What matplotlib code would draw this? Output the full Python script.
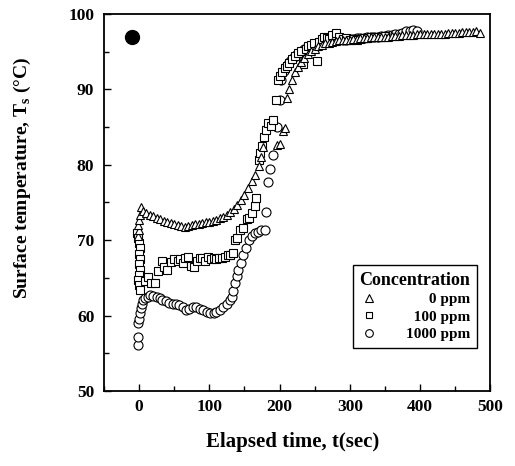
import matplotlib
matplotlib.use("Agg")
import matplotlib.pyplot as plt
from matplotlib.ticker import MultipleLocator

plt.rcParams['font.family'] = ['Liberation Serif', 'DejaVu Serif']
plt.rcParams['font.weight'] = 'bold'
plt.rcParams['mathtext.fontset'] = 'custom'
plt.rcParams['mathtext.rm'] = 'Liberation Serif:bold'

# ---- data ----
tri_t = [-1, 0, -1, 0, 1, 2,
         5, 10, 15, 20, 25, 30, 35, 40, 45, 50, 55, 60, 65, 70, 75, 80, 85, 90, 95, 100,
         105, 110, 115, 120, 125, 130, 135, 140, 145, 150, 155, 160, 165, 170, 174, 177,
         197, 201, 205, 208, 211, 214, 218, 222, 226, 230, 235, 240, 245, 250, 255, 260,
         265, 270, 275, 280, 285, 290, 295, 300, 305, 310, 315, 320, 325, 330, 335, 340,
         345, 350, 355, 360, 365, 370, 375, 380, 385, 390, 395, 400, 405, 410, 415, 420,
         425, 430, 435, 440, 445, 450, 455, 460, 465, 470, 475, 480, 485]
tri_T = [70.6, 71.3, 72.0, 72.7, 73.4, 74.4,
         73.9, 73.6, 73.4, 73.2, 73.0, 72.8, 72.6, 72.4, 72.3, 72.1, 72.0, 71.9, 71.8, 71.9,
         72.0, 72.1, 72.2, 72.3, 72.4, 72.4, 72.6, 72.7, 72.9, 73.1, 73.4, 73.8, 74.2, 74.6,
         75.3, 76.0, 76.9, 77.8, 78.7, 79.8, 81.0, 82.3,
         82.6, 82.8, 84.5, 84.9, 88.9, 90.0, 91.3, 92.3, 93.0, 93.6, 94.2, 94.7, 95.1, 95.4,
         95.7, 95.9, 96.1, 96.2, 96.3, 96.4, 96.5, 96.5, 96.6, 96.6, 96.7, 96.7, 96.8, 96.8,
         96.8, 96.9, 96.9, 96.9, 97.0, 97.0, 97.0, 97.1, 97.1, 97.1, 97.2, 97.2, 97.2, 97.2,
         97.3, 97.3, 97.3, 97.3, 97.3, 97.4, 97.4, 97.4, 97.4, 97.5, 97.5, 97.5, 97.5, 97.6,
         97.6, 97.6, 97.6, 97.7, 97.5]

sq_t = [-3, -2, 0, 1, 0, 1, 0, 1, 0, -1, 0, 1,
        8, 12, 17, 22, 27, 32, 36, 40, 45, 50, 55, 58, 62, 66, 70, 74, 78, 82, 86, 90, 94,
        98, 102, 106, 110, 114, 118, 122, 126, 130, 133, 136, 140, 144, 148, 153, 157, 161,
        165, 167, 170, 172, 175, 178, 181, 184, 188, 191, 195, 198, 201, 204, 207, 210, 214,
        218, 222, 226, 230, 233, 237, 241, 245, 249, 253, 256, 260, 263, 267, 271, 275, 280,
        285, 290, 295, 300, 305, 310, 315, 320, 325, 330, 335, 340, 345, 350]
sq_T = [71.0, 70.3, 69.6, 68.9, 68.2, 67.5, 66.8, 66.1, 65.4, 64.7, 64.0, 63.4,
        64.6, 65.1, 64.3, 64.3, 65.9, 67.3, 66.4, 66.0, 67.1, 67.5, 67.2, 67.5, 67.0, 67.6,
        67.8, 66.6, 66.5, 67.3, 67.7, 67.6, 67.3, 67.8, 67.5, 67.7, 67.5, 67.6, 67.7, 67.8,
        68.0, 68.1, 68.3, 70.0, 70.3, 71.4, 71.6, 72.8, 73.0, 73.6, 74.5, 75.6, 80.6, 81.6,
        82.5, 83.7, 84.6, 85.5, 85.2, 85.9, 88.6, 91.2, 91.8, 92.3, 92.8, 93.1, 93.5, 94.0,
        94.4, 94.8, 95.1, 93.3, 95.4, 95.7, 95.9, 96.1, 93.7, 96.3, 96.7, 97.0, 96.8, 96.7,
        97.2, 97.5, 96.9, 96.7, 96.8, 96.6, 96.7, 96.6, 96.7, 96.8, 96.8, 96.9, 96.9, 97.0,
        97.0, 97.1]

ci_t = [-2, -1, -2, 0, 1, 2, 4, 6, 8, 12, 16, 20, 25, 29, 33, 38, 43, 48, 52, 57, 62, 67,
        71, 76, 81, 86, 91, 96, 101, 106, 110, 115, 120, 125, 129, 132, 134, 136, 139, 141,
        145, 148, 152, 157, 161, 165, 169, 174, 179, 181, 183, 186, 190, 196, 200, 202, 206,
        210, 215, 220, 225, 230, 235, 240, 245, 250, 255, 260, 265, 270, 275, 280, 285, 290,
        295, 300, 305, 310, 315, 320, 325, 330, 335, 340, 345, 350, 355, 360, 365, 370, 375,
        380, 385, 390, 395]
ci_T = [56.1, 57.2, 59.0, 59.5, 60.3, 61.0, 61.5, 62.0, 62.3, 62.5, 62.7, 62.6, 62.4, 62.3,
        62.1, 61.9, 61.7, 61.6, 61.5, 61.4, 61.1, 60.7, 60.9, 61.1, 61.1, 60.9, 60.7, 60.5,
        60.4, 60.4, 60.5, 60.7, 61.1, 61.6, 62.1, 62.5, 63.3, 64.3, 65.2, 66.0, 67.0, 68.0,
        69.0, 70.0, 70.6, 71.0, 71.1, 71.3, 71.4, 73.7, 77.7, 79.5, 81.3, 85.0, 88.6, 91.2,
        92.5, 93.2, 93.8, 94.3, 94.7, 95.0, 95.3, 95.5, 95.7, 95.9, 96.0, 96.2, 96.3, 96.4,
        96.4, 96.5, 96.5, 96.6, 96.6, 96.7, 96.7, 96.8, 96.8, 96.8, 96.9, 96.9, 97.0, 97.0,
        97.1, 97.1, 97.2, 97.2, 97.3, 97.4, 97.5, 97.7, 97.8, 97.9, 97.7]

init_t = [-10]
init_T = [97.0]

labels = ['\u2007\u2007\u20070 ppm', '\u2007100 ppm', '1000 ppm']

# ---- figure ----
fig = plt.figure(figsize=(5.15, 4.66), dpi=100)
ax = fig.add_axes([0.202, 0.161, 0.750, 0.809])

mk = dict(linestyle='none', markerfacecolor='white', markeredgecolor='black',
          markeredgewidth=0.8)
ax.plot(ci_t, ci_T, marker='o', markersize=6.5, label=labels[2], zorder=3, **mk)
ax.plot(sq_t, sq_T, marker='s', markersize=5.8, label=labels[1], zorder=3, **mk)
ax.plot(tri_t, tri_T, marker='^', markersize=6.2, label=labels[0], zorder=3, **mk)
ax.plot(init_t, init_T, marker='o', markersize=10, color='black', linestyle='none', zorder=4)

ax.set_xlim(-50, 500)
ax.set_ylim(50, 100)
ax.xaxis.set_major_locator(MultipleLocator(100))
ax.xaxis.set_minor_locator(MultipleLocator(50))
ax.yaxis.set_major_locator(MultipleLocator(10))
ax.yaxis.set_minor_locator(MultipleLocator(5))
ax.tick_params(which='both', direction='in', top=False, right=False, width=1.0)
ax.tick_params(which='major', length=5, labelsize=12.5)
ax.tick_params(which='minor', length=3.5)
ax.tick_params(axis='x', pad=6)
ax.tick_params(axis='y', pad=7)
for s in ax.spines.values():
    s.set_linewidth(1.3)

ax.set_xlabel('Elapsed time, t(sec)', fontsize=15, fontweight='bold')
ax.set_ylabel('Surface temperature, T$_\\mathregular{s}$ (\u00b0C)', fontsize=14,
              fontweight='bold')
ax.xaxis.set_label_coords(0.487, -0.11)
ax.yaxis.set_label_coords(-0.185, 0.565)

h, l = ax.get_legend_handles_labels()
order = [2, 1, 0]
leg = ax.legend([h[i] for i in order], [l[i] for i in order], title='Concentration',
                loc='lower right', bbox_to_anchor=(0.966, 0.114), frameon=True,
                fancybox=False, edgecolor='black', framealpha=1, prop={'size': 11,
                'weight': 'bold'}, title_fontproperties={'size': 13, 'weight': 'bold'},
                handletextpad=1.8, borderpad=0.45, labelspacing=0.25, handlelength=1.2,
                markerscale=0.85, borderaxespad=0)
leg.get_frame().set_linewidth(1.0)

fig.savefig('out.png', dpi=100)
